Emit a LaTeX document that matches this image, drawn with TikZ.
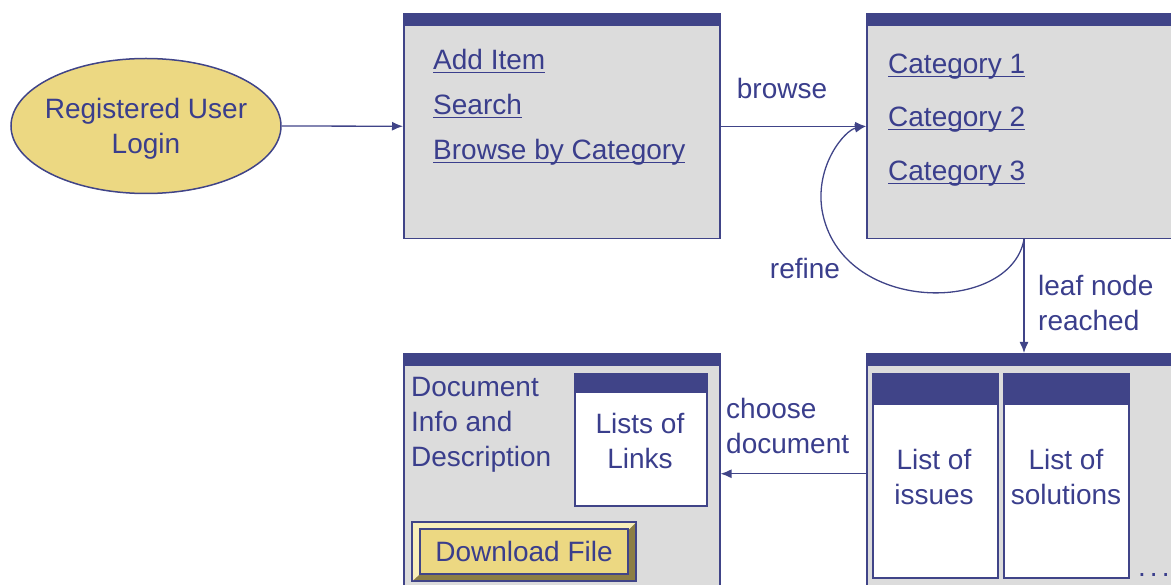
\documentclass[tikz,border=0pt]{standalone}
\usepackage{fontspec}
\setmainfont{Liberation Sans}
\usetikzlibrary{shapes.geometric,arrows.meta,calc}
\definecolor{dblue}{RGB}{64,68,136}
\definecolor{tblue}{RGB}{58,62,140}
\definecolor{bgray}{RGB}{220,220,220}
\definecolor{ylw}{RGB}{236,216,130}
\definecolor{ylwlight}{RGB}{248,238,186}
\definecolor{ylwdark}{RGB}{140,126,70}
\newcommand\myul[1]{\setbox0\hbox{#1}\rlap{\rule[-3.5pt]{\wd0}{1.4pt}}\box0}
\begin{document}
\begin{tikzpicture}[x=1pt,y=-1pt,
  font=\fontsize{28}{35}\selectfont, text=tblue,
  win/.style={draw=dblue, fill=bgray, line width=1.5pt, rectangle, inner sep=0pt, anchor=north west,
    path picture={\fill[dblue] (path picture bounding box.north west) rectangle ([yshift=-#1]path picture bounding box.north east);}},
  win/.default=12pt,
  listbox/.style={win=#1, fill=white},
  txt/.style={inner sep=0pt},
  arr/.style={draw=dblue, line width=1.3pt, -{Latex[length=11pt,width=9pt]}},
  con/.style={draw=dblue, line width=1.3pt}]
\useasboundingbox (0,0) rectangle (1171,585);
\clip (0,0) rectangle (1171,585);
% login
\node[ellipse, draw=dblue, fill=ylw, line width=1.5pt, minimum width=270, minimum height=135, inner sep=0pt] (login) at (146,126) {};
\node[txt, align=center] (loginT) at (146,129) {Registered User\\Login};
% windows
\node[win, minimum width=316, minimum height=225] (b1) at (403,13) {};
\node[win, minimum width=340, minimum height=225] (b2) at (866,13) {};
\node[win, minimum width=340, minimum height=240] (b3) at (866,353) {};
\node[win, minimum width=316, minimum height=240] (b4) at (403,353) {};
% box1 links
\node[txt, anchor=base west] (add) at (433,70) {\myul{Add Item}};
\node[txt, anchor=base west] (search) at (433,115) {\myul{Search}};
\node[txt, anchor=base west] (browseby) at (433,160) {\myul{Browse by Category}};
% box2 links
\node[txt, anchor=base west] (cat1) at (888,74) {\myul{Category 1}};
\node[txt, anchor=base west] (cat2) at (888,127) {\myul{Category 2}};
\node[txt, anchor=base west] (cat3) at (888,181) {\myul{Category 3}};
% box3 lists
\node[listbox=31pt, minimum width=125, minimum height=204] (issues) at (872,373) {};
\node[listbox=31pt, minimum width=125, minimum height=204] (solutions) at (1003,373) {};
\node[txt, align=center] (issuesT) at (934,477) {List of\\issues};
\node[txt, align=center] (solT) at (1066,477) {List of\\solutions};
\node[txt, anchor=base west] (dots) at (1138,576) {.\hspace{4pt}.\hspace{4pt}.};
% box4
\node[txt, anchor=west, align=left] (docinfo) at (411,425) {Document\\Info and\\Description};
\node[listbox=19pt, minimum width=132, minimum height=132] (links) at (574,373) {};
\node[txt, align=center] (linksT) at (640,441) {Lists of\\Links};
% download button
\node[rectangle, draw=dblue, fill=ylwdark, line width=1.3pt, anchor=north west, minimum width=223, minimum height=58, inner sep=0pt] (btnout) at (412,522) {};
\fill[ylwlight] (btnout.north west) -- (btnout.north east) -- ++(-7,7) -- (420,529) -- (420,574) -- (btnout.south west) -- cycle;
\draw[dblue, line width=1.3pt] (btnout.north west) rectangle (btnout.south east);
\node[rectangle, draw=dblue, fill=ylw, line width=1.3pt, minimum width=208, minimum height=45, inner sep=0pt] (btn) at (524,551.5) {Download File};
% connectors
\draw[arr] (login.east) -- (b1.west);
\draw[arr] (b1.east) -- (b2.west);
\node[txt] (browseL) at (782,88) {browse};
\coordinate (leafA) at ($(b2.south west)+(158,0)$);
\draw[arr] (leafA) -- (leafA |- b3.north);
\node[txt, anchor=west, align=left] (leafL) at (1038,303) {leaf node\\reached};
\draw[arr] (leafA) .. controls (1010,315) and (840,315) .. (822,210) .. controls (815,165) and (845,130) .. (b2.west);
\node[txt] (refineL) at (805,268) {refine};
\draw[arr] (b3.west) -- (b4.east);
\node[txt, anchor=west, align=left] (chooseL) at (726,426) {choose\\document};
\end{tikzpicture}
\end{document}
